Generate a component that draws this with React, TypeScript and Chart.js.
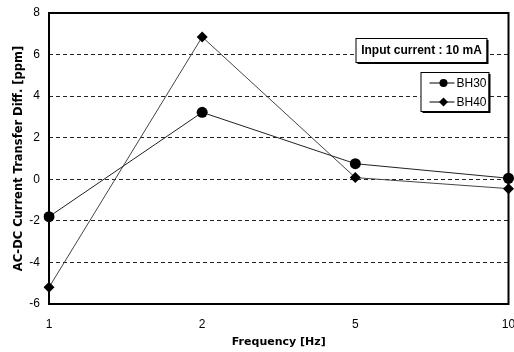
import React, { useEffect, useRef } from "react";
import { Chart, registerables } from "chart.js";

Chart.register(...registerables);

// Frequency categories and measured AC-DC differences
const frequencies = ["1", "2", "5", "10"];
const bh30Values = [-1.8, 3.22, 0.75, 0.05];
const bh40Values = [-5.2, 6.85, 0.08, -0.45];
const seriesNames = ["BH30", "BH40"];
const yTicks = [-6, -4, -2, 0, 2, 4, 6, 8];
const noteText = "Input current : 10 mA";

const FONT = "'Liberation Sans Narrow', 'Arial Narrow', 'Liberation Sans', sans-serif";
const TITLE_FONT = "'DejaVu Sans', 'Liberation Sans', sans-serif";

const boxPlugin = {
  id: "frameAndBoxes",
  afterDraw(chart: any) {
    const { ctx, chartArea } = chart;
    const { left, right, top, bottom } = chartArea;
    ctx.save();
    // plot frame
    ctx.strokeStyle = "#000";
    ctx.lineWidth = 2;
    ctx.strokeRect(left, top, right - left, bottom - top);

    const drawBox = (x: number, y: number, w: number, h: number) => {
      ctx.fillStyle = "#000";
      ctx.fillRect(x + 2, y + 2, w, h);
      ctx.fillStyle = "#fff";
      ctx.fillRect(x, y, w, h);
      ctx.lineWidth = 1;
      ctx.strokeStyle = "#000";
      ctx.strokeRect(x + 0.5, y + 0.5, w, h);
    };

    // annotation box
    const nx = right - 153;
    const ny = top + 25;
    drawBox(nx, ny, 131, 24);
    ctx.fillStyle = "#000";
    ctx.font = `bold 12px 'Liberation Sans', sans-serif`;
    ctx.textAlign = "center";
    ctx.textBaseline = "middle";
    ctx.fillText(noteText, nx + 66, ny + 13);

    // legend box
    const lx = right - 88;
    const ly = top + 59;
    drawBox(lx, ly, 68, 39);
    const styles = ["circle", "rectRot"];
    seriesNames.forEach((name, i) => {
      const cy = ly + 11 + i * 19;
      ctx.strokeStyle = "#000";
      ctx.lineWidth = 1;
      ctx.beginPath();
      ctx.moveTo(lx + 9, cy);
      ctx.lineTo(lx + 34, cy);
      ctx.stroke();
      ctx.fillStyle = "#000";
      ctx.beginPath();
      if (styles[i] === "circle") {
        ctx.arc(lx + 23, cy, 4, 0, Math.PI * 2);
      } else {
        ctx.moveTo(lx + 23, cy - 4.5);
        ctx.lineTo(lx + 27.5, cy);
        ctx.lineTo(lx + 23, cy + 4.5);
        ctx.lineTo(lx + 18.5, cy);
        ctx.closePath();
      }
      ctx.fill();
      ctx.font = `12px ${FONT}`;
      ctx.textAlign = "left";
      ctx.fillText(name, lx + 36, cy + 1);
    });
    ctx.restore();
  },
};

export default function App() {
  const ref = useRef<HTMLCanvasElement>(null);

  useEffect(() => {
    if (!ref.current) return;
    const chart = new Chart(ref.current, {
      type: "line",
      data: {
        labels: frequencies,
        datasets: [
          {
            label: seriesNames[0],
            data: bh30Values,
            borderColor: "#222",
            borderWidth: 1,
            backgroundColor: "#000",
            pointStyle: "circle",
            pointRadius: 5.5,
            pointBorderWidth: 0,
          },
          {
            label: seriesNames[1],
            data: bh40Values,
            borderColor: "#444",
            borderWidth: 1,
            backgroundColor: "#000",
            pointStyle: "rectRot",
            pointRadius: 5.5,
            pointBorderWidth: 0,
          },
        ],
      },
      options: {
        animation: false,
        responsive: false,
        maintainAspectRatio: false,
        layout: { padding: { left: 0, right: 5, top: 13, bottom: 0 } },
        plugins: { legend: { display: false }, tooltip: { enabled: false } },
        scales: {
          x: {
            offset: false,
            grid: { display: false, drawTicks: false },
            border: { display: false },
            ticks: { color: "#000", font: { family: FONT, size: 12 }, padding: 13 },
            title: {
              display: true,
              text: "Frequency [Hz]",
              color: "#000",
              font: { family: TITLE_FONT, size: 11, weight: "bold" },
              padding: { top: 0, bottom: 3 },
            },
            afterFit: (s: any) => {
              s.height = 48;
              s.paddingLeft = 0;
              s.paddingRight = 0;
            },
          },
          y: {
            min: -6,
            max: 8,
            afterBuildTicks: (s: any) => {
              s.ticks = yTicks.map((v) => ({ value: v }));
            },
            grid: {
              drawTicks: false,
              color: (c: any) =>
                c.tick && (c.tick.value === 8 || c.tick.value === -6) ? "rgba(0,0,0,0)" : "#222",
              lineWidth: 1,
            },
            border: { display: true, width: 0, color: "rgba(0,0,0,0)", dash: [4, 3] },
            ticks: { color: "#000", font: { family: FONT, size: 12 }, padding: 9 },
            title: {
              display: true,
              text: "AC-DC Current Transfer Diff. [ppm]",
              color: "#000",
              font: { family: TITLE_FONT, size: 11.5, weight: "bold" },
              padding: { top: 12, bottom: 0 },
            },
            afterFit: (s: any) => {
              s.width = 49;
              s.paddingTop = 0;
              s.paddingBottom = 0;
            },
          },
        },
      },
      plugins: [boxPlugin],
    } as any);
    return () => chart.destroy();
  }, []);

  return (
    <div style={{ position: "fixed", left: 0, top: 0, width: 514, height: 352, background: "#fff" }}>
      <canvas ref={ref} width={514} height={352} style={{ width: 514, height: 352 }} />
    </div>
  );
}
